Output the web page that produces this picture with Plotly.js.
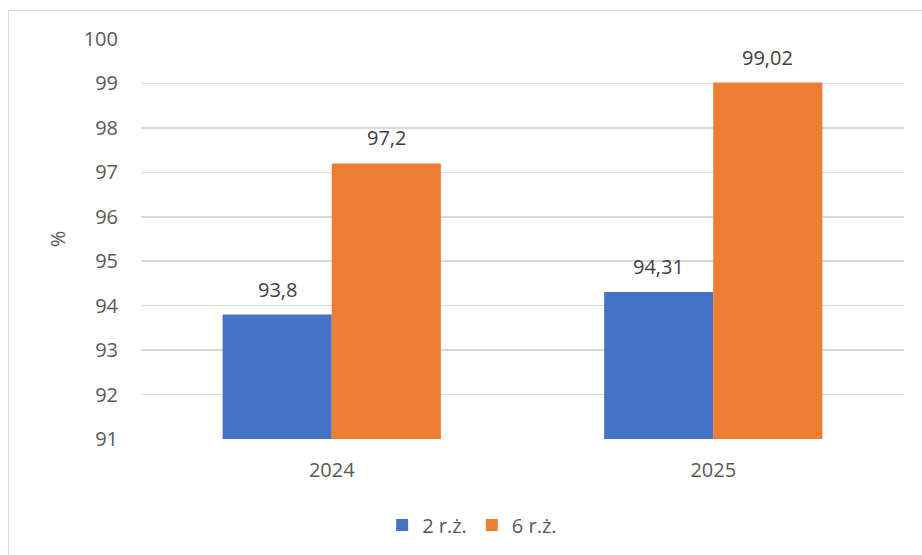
<!DOCTYPE html>
<html>
<head>
<meta charset="utf-8">
<script src="https://cdn.plot.ly/plotly-3.0.1.min.js"></script>
<style>
html,body{margin:0;padding:0;background:#fff;}
#chart{width:922px;height:555px;}
#frame{position:absolute;left:8px;top:10px;width:1000px;height:700px;border:1px solid #d9d9d9;pointer-events:none;}
</style>
</head>
<body>
<div id="chart"></div>
<div id="frame"></div>
<script>
const categories = ['2024', '2025'];
const series1Name = '2 r.ż.';
const series1Values = [93.8, 94.31];
const series2Name = '6 r.ż.';
const series2Values = [97.2, 99.02];
const yTicks = [91, 92, 93, 94, 95, 96, 97, 98, 99, 100];

const fmt = v => String(v).replace('.', ',');
const font = 'Open Sans, sans-serif';
const fs = 20;

const traces = [
  {type: 'bar', name: series1Name, x: categories, y: series1Values,
   marker: {color: '#4472C4'}, hoverinfo: 'none'},
  {type: 'bar', name: series2Name, x: categories, y: series2Values,
   marker: {color: '#ED7D31'}, hoverinfo: 'none'}
];

const barPx = 109;
const annotations = [];
categories.forEach((c, i) => {
  annotations.push({x: i, y: series1Values[i], text: fmt(series1Values[i]), xshift: -barPx/2,
    yshift: 10, yanchor: 'bottom', showarrow: false, font: {family: font, size: fs, color: '#404040'}});
  annotations.push({x: i, y: series2Values[i], text: fmt(series2Values[i]), xshift: barPx/2,
    yshift: 10, yanchor: 'bottom', showarrow: false, font: {family: font, size: fs, color: '#404040'}});
});

const layout = {
  width: 922, height: 555,
  margin: {l: 141, r: 18, t: 39, b: 115},
  paper_bgcolor: '#fff', plot_bgcolor: '#fff',
  barmode: 'group', bargap: 0.428, bargroupgap: 0,
  font: {family: font, size: fs, color: '#595959'},
  xaxis: {type: 'category', range: [-0.5, 1.5], showgrid: false, zeroline: false, showline: false, ticks: '',
    tickfont: {family: font, size: fs, color: '#595959'}, ticklabelstandoff: 17},
  yaxis: {range: [91, 100], tickvals: yTicks, ticktext: yTicks.map(String), showgrid: true,
    gridcolor: '#d9d9d9', gridwidth: 1.5, zeroline: false, showline: false, ticks: '',
    tickfont: {family: font, size: fs, color: '#595959'}, ticklabelstandoff: 22,
    title: {text: '%', font: {family: font, size: fs, color: '#595959'}, standoff: 12}},
  showlegend: true,
  legend: {orientation: 'h', x: 0.434, xanchor: 'center', y: -0.212, yanchor: 'middle',
    font: {family: font, size: fs, color: '#595959'}, itemwidth: 30, traceorder: 'normal'},
  annotations: annotations
};

Plotly.newPlot('chart', traces, layout, {displayModeBar: false, staticPlot: true});
</script>
</body>
</html>
